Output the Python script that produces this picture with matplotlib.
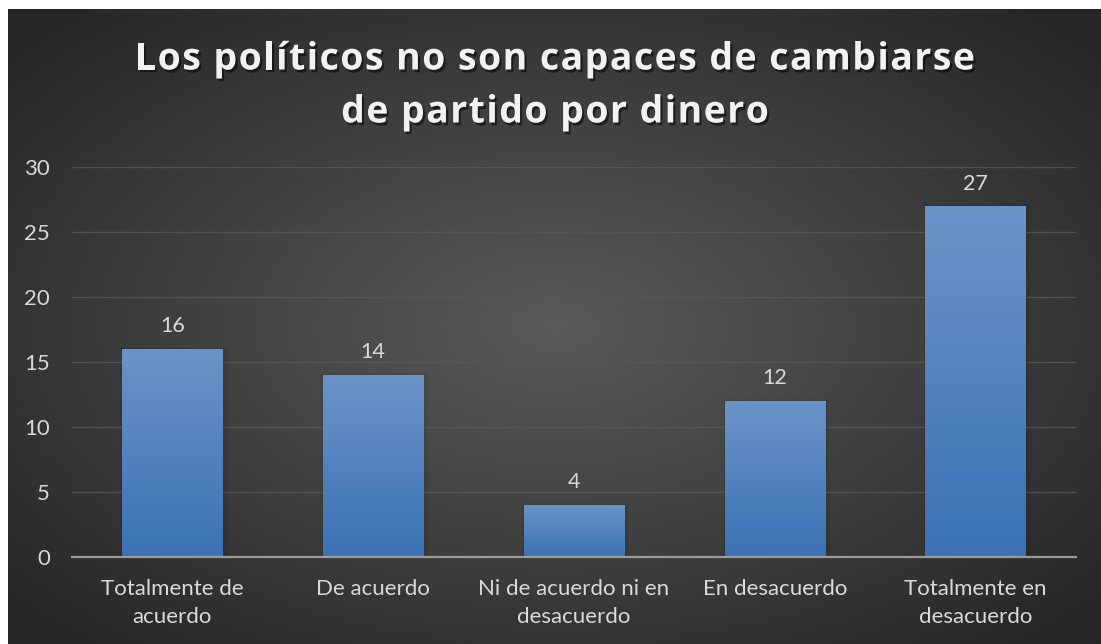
import numpy as np
import matplotlib
matplotlib.use('Agg')
import matplotlib.pyplot as plt
import matplotlib.patheffects as pe
from matplotlib.font_manager import FontProperties, findfont
from matplotlib.ft2font import FT2Font

categorias = ['Totalmente de\nacuerdo', 'De acuerdo', 'Ni de acuerdo ni en\ndesacuerdo',
              'En desacuerdo', 'Totalmente en\ndesacuerdo']
valores = [16, 14, 4, 12, 27]
titulo = ['Los políticos no son capaces de cambiarse', 'de partido por dinero']
yticks = [0, 5, 10, 15, 20, 25, 30]

plt.rcParams['font.family'] = ['Lato', 'DejaVu Sans']

W, H = 1101, 644
fig = plt.figure(figsize=(W / 100, H / 100), dpi=100)
fig.patch.set_facecolor('white')

# fondo con degradado radial
bg = fig.add_axes([8 / W, 0, 1 - 8 / W, 635 / H])
bg.set_axis_off()
yy, xx = np.mgrid[-1:1:300j, -1:1:500j]
r = np.sqrt(xx ** 2 + yy ** 2)
r = np.clip(r / 1.35, 0, 1)
c0 = np.array([0x5a, 0x5a, 0x5a]) / 255
c1 = np.array([0x26, 0x26, 0x26]) / 255
img = c0[None, None, :] * (1 - r[..., None]) + c1[None, None, :] * r[..., None]
bg.imshow(img, aspect='auto', extent=[0, 1, 0, 1], interpolation='bilinear')
bg.set_xlim(0, 1)
bg.set_ylim(0, 1)

ax = fig.add_axes([72 / W, 87 / H, 1004 / W, 390 / H])
ax.patch.set_alpha(0)

x = np.arange(len(categorias))
bars = ax.bar(x, valores, width=0.5, color='#4f81bd', zorder=3)

# degradado en las barras
grad = np.linspace(0, 1, 100)[:, None]
top = np.array([0x6a, 0x93, 0xc8]) / 255
bot = np.array([0x3c, 0x72, 0xb5]) / 255
gimg = bot[None, None, :] * (1 - grad[..., None]) + top[None, None, :] * grad[..., None]
for b in bars:
    bx, bw, bh = b.get_x(), b.get_width(), b.get_height()
    # sombra suave
    for k, a in [(0.03, 0.04), (0.015, 0.06)]:
        ax.add_patch(plt.Rectangle((bx - k * 0.3, 0), bw + k * 1.3, bh + k * 6, color='black',
                                   alpha=a, zorder=2, lw=0))
    im = ax.imshow(gimg, origin='lower', aspect='auto', extent=[bx, bx + bw, 0, bh],
                   zorder=4, interpolation='bilinear')
    im.set_clip_path(b)
    ax.annotate(str(int(bh)), (bx + bw / 2, bh), xytext=(0, 9), textcoords='offset points',
                ha='center', va='bottom', color='#d9d9d9', fontsize=15.5)

ax.set_xlim(-0.5, len(categorias) - 0.5)
ax.set_ylim(0, 30)
ax.set_yticks(yticks)
ax.set_xticks(x)
ax.set_xticklabels(categorias, linespacing=1.5)
ax.tick_params(axis='both', length=0, colors='#d9d9d9', labelsize=16)
ax.tick_params(axis='x', pad=16)
ax.tick_params(axis='y', pad=16)
ax.grid(axis='y', color='#595959', linewidth=1.0, alpha=0.8, zorder=0)
for s in ['top', 'right', 'left']:
    ax.spines[s].set_visible(False)
ax.spines['bottom'].set_color('#9a9a9a')
ax.spines['bottom'].set_linewidth(1.6)
ax.spines['bottom'].set_zorder(5)

# titulo con espaciado entre letras
tsize = 27
fp = FontProperties(family='Open Sans', weight='bold', size=tsize)
ft = FT2Font(findfont(fp))
ft.set_size(tsize, 100)


def avances(s):
    return [ft.load_char(ord(c)).linearHoriAdvance / 65536 for c in s]


ancho1 = sum(avances(titulo[0]))
espacio = (840 - ancho1) / (len(titulo[0]) - 1)
sombra = [pe.withSimplePatchShadow(offset=(1.5, -2), shadow_rgbFace='black', alpha=0.5)]
xc = 555
for texto, yc in zip(titulo, [55, 108]):
    adv = avances(texto)
    total = sum(adv) + espacio * (len(texto) - 1)
    px = xc - total / 2
    for c, a in zip(texto, adv):
        if c != ' ':
            fig.text(px / W, 1 - yc / H, c, ha='left', va='center_baseline', color='#f2f2f2',
                     fontproperties=fp, path_effects=sombra)
        px += a + espacio

fig.savefig('out.png', dpi=100, facecolor=fig.get_facecolor())
